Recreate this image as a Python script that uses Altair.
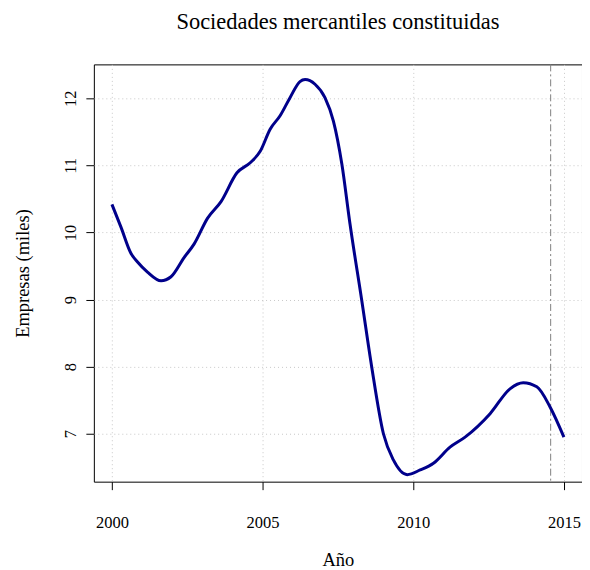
import altair as alt
import pandas as pd

# Smoothed series (year, thousands of companies)
years = [2000.00, 2000.30, 2000.63, 2000.85, 2001.18, 2001.63, 2001.96, 2002.40, 2002.73,
         2003.17, 2003.62, 2004.15, 2004.59, 2004.92, 2005.25, 2005.58, 2005.91, 2006.24,
         2006.41, 2006.74, 2007.07, 2007.35, 2007.63, 2007.90, 2008.29, 2008.62, 2009.01,
         2009.34, 2009.80, 2010.23, 2010.67, 2011.22, 2011.72, 2012.55, 2013.21, 2013.65,
         2014.10, 2014.54, 2015.00]
values = [10.42, 10.08, 9.69, 9.56, 9.41, 9.28, 9.34, 9.63, 9.83,
          10.21, 10.46, 10.89, 11.04, 11.21, 11.54, 11.74, 12.01, 12.25,
          12.28, 12.21, 12.01, 11.66, 11.02, 10.13, 8.99, 8.00, 7.00,
          6.61, 6.39, 6.46, 6.56, 6.80, 6.95, 7.30, 7.67, 7.76,
          7.70, 7.40, 6.95]
marker_year = [2014.56]
x_ticks = [2000, 2005, 2010, 2015]
y_ticks = [7, 8, 9, 10, 11, 12]
chart_title = ["Sociedades mercantiles constituidas"]

df = pd.DataFrame({"year": years, "value": values})
df_marker = pd.DataFrame({"year": marker_year})
df_title = pd.DataFrame({"t": chart_title})

FONT = "Liberation Serif"

x_scale = alt.Scale(domain=[1999.4, 2015.6], nice=False, zero=False)
y_scale = alt.Scale(domain=[6.286, 12.506], nice=False, zero=False)

x_axis = alt.Axis(
    values=x_ticks, format="d", title="Año", domain=False,
    tickSize=8, tickColor="black", tickWidth=1,
    labelFont=FONT, labelFontSize=16.5, labelColor="black",
    labelBaseline="alphabetic", labelPadding=37.7, labelAlign="center",
    titleFont=FONT, titleFontSize=18.5, titleFontWeight="normal", titleColor="black",
    titleBaseline="alphabetic", titleY=84, titleX=244.5,
    grid=True, gridColor="#c8c8c8", gridDash=[1, 3], gridWidth=1,
)
y_axis = alt.Axis(
    values=y_ticks, format="d", title="Empresas (miles)", domain=False,
    tickSize=8, tickColor="black", tickWidth=1,
    labelFont=FONT, labelFontSize=16.5, labelColor="black",
    labelAngle=270, labelAlign="center", labelBaseline="alphabetic", labelPadding=10,
    titleFont=FONT, titleFontSize=18.5, titleFontWeight="normal", titleColor="black",
    titleAngle=270, titleAlign="center", titleBaseline="alphabetic",
    titleX=-65, titleY=209,
    grid=True, gridColor="#c8c8c8", gridDash=[1, 3], gridWidth=1,
)

line = alt.Chart(df).mark_line(
    color="#00008B", strokeWidth=3, interpolate="monotone"
).encode(
    x=alt.X("year:Q", scale=x_scale, axis=x_axis),
    y=alt.Y("value:Q", scale=y_scale, axis=y_axis),
)

rule = alt.Chart(df_marker).mark_rule(
    color="#7f7f7f", strokeWidth=1, strokeDash=[7, 3, 2, 3]
).encode(
    x=alt.X("year:Q", scale=x_scale),
)

title_text = alt.Chart(df_title).mark_text(
    font=FONT, fontSize=22.5, color="black", align="center", baseline="alphabetic"
).encode(
    x=alt.value(244.5),
    y=alt.value(-35.5),
    text="t:N",
)

chart = alt.layer(rule, line, title_text).properties(
    width=489,
    height=418,
    autosize=alt.AutoSizeParams(type="none"),
    padding={"left": 86, "top": 56, "right": 0, "bottom": 88},
).configure_view(
    stroke="black", strokeWidth=1
)

chart.save("out.html", embed_options={"renderer": "svg", "actions": False})
